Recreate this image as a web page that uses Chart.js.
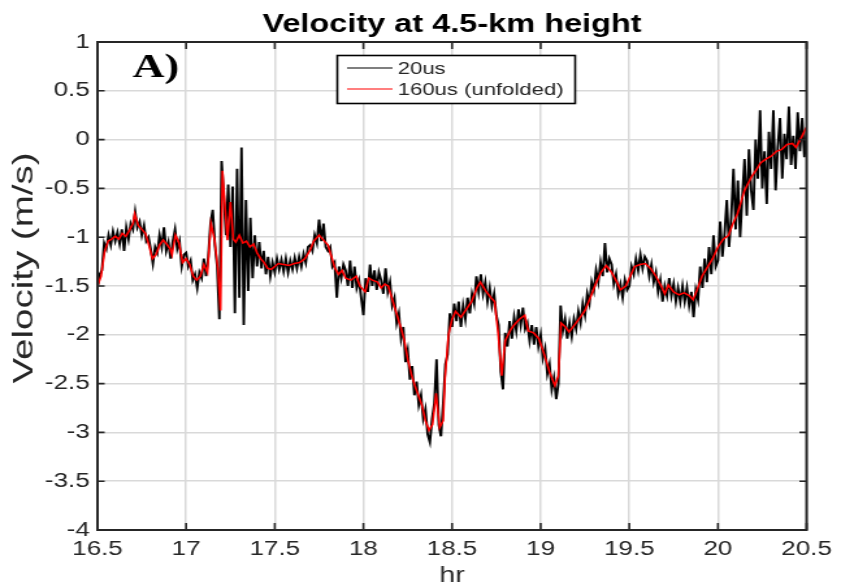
<!DOCTYPE html>
<html>
<head>
<meta charset="utf-8">
<script src="https://cdn.jsdelivr.net/npm/chart.js@4.4.1/dist/chart.umd.min.js"></script>
<style>
  html, body { margin: 0; padding: 0; background: #fff; overflow: hidden; }
  /* the figure is drawn narrow and widened, like the exported plot */
  #wrap { width: 647px; height: 588px; transform: scaleX(1.2998); transform-origin: 0 0; }
</style>
</head>
<body>
<div id="wrap"><canvas id="chart" width="647" height="588"></canvas></div>
<script>
// 20us samples, one every 0.0125 hr from 16.5
const rawStart = 16.5;
const rawStep = 0.0125;
const rawVel = [
  -1.52, -1.38, -1.34, -1.06, -1.12, -0.98, -1.08, -0.94,
  -1.04, -0.95, -1.07, -0.92, -1.14, -0.90, -1.02, -0.86,
  -0.92, -0.74, -0.90, -0.84, -0.98, -0.88, -1.04, -1.00,
  -1.12, -1.27, -1.10, -1.16, -0.98, -1.10, -0.90, -1.14,
  -1.05, -1.22, -1.04, -0.92, -1.12, -1.04, -1.30, -1.18,
  -1.16, -1.30, -1.24, -1.44, -1.38, -1.52, -1.36, -1.42,
  -1.22, -1.40, -1.20, -0.86, -0.72, -1.08, -1.30, -1.84,
  -0.22, -0.58, -0.98, -0.46, -1.10, -0.48, -1.78, -0.30,
  -1.62, -0.08, -1.90, -0.62, -1.55, -0.80, -1.42, -0.98,
  -1.30, -1.05, -1.32, -1.14, -1.38, -1.20, -1.40, -1.26,
  -1.36, -1.22, -1.33, -1.23, -1.35, -1.22, -1.36, -1.24,
  -1.33, -1.21, -1.32, -1.20, -1.30, -1.17, -1.26, -1.10,
  -1.08, -1.14, -0.98, -1.06, -0.82, -1.04, -0.86, -1.10,
  -1.14, -1.10, -1.30, -1.26, -1.62, -1.30, -1.42, -1.28,
  -1.34, -1.50, -1.24, -1.52, -1.30, -1.52, -1.44, -1.62,
  -1.80, -1.42, -1.56, -1.28, -1.50, -1.34, -1.54, -1.36,
  -1.44, -1.58, -1.32, -1.56, -1.46, -1.70, -1.62, -1.88,
  -1.78, -2.04, -1.92, -2.28, -2.16, -2.46, -2.32, -2.62,
  -2.48, -2.72, -2.62, -2.86, -2.76, -3.02, -3.10, -2.86,
  -2.70, -2.25, -2.92, -3.04, -2.70, -2.30, -2.20, -1.78,
  -1.92, -1.68, -1.86, -1.66, -1.92, -1.70, -1.84, -1.62,
  -1.78, -1.58, -1.68, -1.40, -1.56, -1.38, -1.58, -1.46,
  -1.66, -1.52, -1.70, -1.58, -1.80, -1.90, -2.38, -2.56,
  -1.98, -2.12, -1.86, -2.04, -1.82, -1.96, -1.74, -1.90,
  -1.72, -1.94, -1.88, -2.06, -1.90, -2.10, -1.92, -2.12,
  -2.00, -2.24, -2.14, -2.40, -2.30, -2.56, -2.44, -2.66,
  -2.50, -1.70, -1.96, -1.84, -2.04, -1.88, -2.02, -1.84,
  -1.94, -1.76, -1.88, -1.68, -1.80, -1.58, -1.68, -1.46,
  -1.55, -1.34, -1.46, -1.26, -1.40, -1.06, -1.36, -1.22,
  -1.28, -1.48, -1.38, -1.58, -1.48, -1.62, -1.44, -1.54,
  -1.50, -1.30, -1.38, -1.22, -1.34, -1.18, -1.32, -1.20,
  -1.24, -1.40, -1.28, -1.46, -1.36, -1.56, -1.44, -1.66,
  -1.50, -1.60, -1.42, -1.60, -1.48, -1.66, -1.52, -1.66,
  -1.50, -1.66, -1.52, -1.70, -1.56, -1.82, -1.54, -1.64,
  -1.30, -1.52, -1.22, -1.46, -1.10, -1.38, -0.98, -1.30,
  -1.24, -0.84, -1.20, -0.96, -0.62, -1.10, -0.80, -0.30,
  -0.92, -0.42, -1.00, -0.58, -0.20, -0.78, -0.10, -0.52,
  -0.72, 0.00, -0.40, 0.30, -0.50, -0.12, -0.66, 0.08,
  -0.30, 0.30, -0.52, -0.08, 0.22, -0.40, 0.06, -0.20,
  0.34, -0.26, 0.04, -0.30, 0.28, -0.12, 0.22, -0.18,
  0.10
];

// 160us unfolded velocity
const unfHr = [
  16.50, 16.52, 16.54, 16.56, 16.58, 16.60, 16.62, 16.64, 16.66, 16.68,
  16.70, 16.71, 16.73, 16.75, 16.77, 16.79, 16.81, 16.83, 16.85, 16.87,
  16.89, 16.91, 16.92, 16.94, 16.96, 16.98, 17.00, 17.02, 17.04, 17.06,
  17.08, 17.10, 17.12, 17.14, 17.16, 17.18, 17.194, 17.205, 17.22, 17.233,
  17.25, 17.266, 17.28, 17.30, 17.32, 17.34, 17.36, 17.38, 17.40, 17.42,
  17.44, 17.46, 17.48, 17.50, 17.52, 17.55, 17.58, 17.61, 17.64, 17.67,
  17.70, 17.72, 17.75, 17.77, 17.80, 17.82, 17.84, 17.86, 17.88, 17.90,
  17.93, 17.96, 17.98, 18.01, 18.03, 18.05, 18.08, 18.10, 18.12, 18.14,
  18.16, 18.19, 18.21, 18.23, 18.25, 18.27, 18.29, 18.31, 18.33, 18.35,
  18.37, 18.39, 18.41, 18.43, 18.45, 18.46, 18.48, 18.50, 18.52, 18.55,
  18.58, 18.61, 18.64, 18.66, 18.69, 18.72, 18.74, 18.76, 18.78, 18.80,
  18.83, 18.85, 18.88, 18.91, 18.93, 18.96, 18.99, 19.02, 19.05, 19.08,
  19.10, 19.115, 19.14, 19.16, 19.19, 19.22, 19.25, 19.28, 19.31, 19.34,
  19.37, 19.40, 19.43, 19.45, 19.48, 19.50, 19.53, 19.56, 19.59, 19.62,
  19.65, 19.68, 19.70, 19.72, 19.75, 19.78, 19.81, 19.84, 19.86, 19.88,
  19.91, 19.94, 19.97, 20.00, 20.03, 20.06, 20.08, 20.11, 20.13, 20.15,
  20.17, 20.19, 20.22, 20.24, 20.27, 20.30, 20.33, 20.36, 20.39, 20.42,
  20.44, 20.47, 20.50
];
const unfVel = [
  -1.50, -1.40, -1.15, -1.04, -1.02, -0.99, -1.02, -0.96, -0.99, -0.93,
  -0.86, -0.76, -0.88, -0.92, -0.96, -1.08, -1.22, -1.18, -1.08, -1.03,
  -1.07, -1.12, -1.18, -0.98, -1.06, -1.26, -1.22, -1.28, -1.40, -1.44,
  -1.40, -1.28, -1.36, -0.86, -1.02, -1.34, -1.75, -0.32, -0.70, -1.03,
  -0.64, -1.02, -1.05, -0.98, -1.06, -1.04, -1.10, -1.07, -1.16, -1.22,
  -1.26, -1.32, -1.33, -1.30, -1.27, -1.28, -1.29, -1.27, -1.26, -1.22,
  -1.13, -1.04, -0.98, -1.02, -1.08, -1.20, -1.32, -1.38, -1.34, -1.42,
  -1.44, -1.40, -1.50, -1.56, -1.42, -1.44, -1.46, -1.52, -1.48, -1.50,
  -1.62, -1.80, -1.92, -2.05, -2.25, -2.40, -2.52, -2.62, -2.72, -2.88,
  -2.98, -2.92, -2.60, -2.95, -2.88, -2.45, -2.00, -1.84, -1.76, -1.82,
  -1.74, -1.66, -1.52, -1.46, -1.55, -1.62, -1.66, -1.98, -2.42, -2.06,
  -1.95, -1.90, -1.84, -1.80, -1.96, -1.98, -2.04, -2.20, -2.38, -2.52,
  -2.42, -1.88, -1.92, -1.97, -1.90, -1.83, -1.75, -1.62, -1.48, -1.36,
  -1.29, -1.36, -1.46, -1.54, -1.50, -1.42, -1.30, -1.28, -1.27, -1.32,
  -1.40, -1.50, -1.58, -1.49, -1.56, -1.59, -1.57, -1.60, -1.64, -1.55,
  -1.40, -1.31, -1.22, -1.10, -1.02, -0.98, -0.88, -0.76, -0.64, -0.52,
  -0.45, -0.38, -0.30, -0.24, -0.20, -0.17, -0.12, -0.10, -0.05, -0.04,
  -0.08, 0.02, 0.13
];

const hrTicks = [16.5, 17, 17.5, 18, 18.5, 19, 19.5, 20, 20.5];
const velTicks = [-4, -3.5, -3, -2.5, -2, -1.5, -1, -0.5, 0, 0.5, 1];
const seriesNames = ['20us', '160us (unfolded)'];
const seriesColors = ['#000000', '#ff0000'];

const FONT = '"Liberation Sans", Arial, Helvetica, sans-serif';
const INK = '#262626';

const rawPoints = rawVel.map((v, i) => ({ x: rawStart + i * rawStep, y: v }));
const unfPoints = unfHr.map((h, i) => ({ x: h, y: unfVel[i] }));

// box, inward ticks, titles, panel tag and legend (matlab look)
const figureDecor = {
  id: 'figureDecor',
  afterDraw(chart) {
    const { ctx, chartArea: a, scales } = chart;
    const xs = scales.x, ys = scales.y;
    ctx.save();

    ctx.strokeStyle = INK;
    ctx.lineWidth = 1.6;
    ctx.beginPath();
    hrTicks.forEach(h => {
      const px = xs.getPixelForValue(h);
      ctx.moveTo(px, a.bottom); ctx.lineTo(px, a.bottom - 7);
      ctx.moveTo(px, a.top); ctx.lineTo(px, a.top + 7);
    });
    velTicks.forEach(v => {
      const py = ys.getPixelForValue(v);
      ctx.moveTo(a.left, py); ctx.lineTo(a.left + 5.5, py);
      ctx.moveTo(a.right, py); ctx.lineTo(a.right - 5.5, py);
    });
    ctx.stroke();

    ctx.lineWidth = 2;
    ctx.strokeRect(a.left, a.top, a.right - a.left, a.bottom - a.top);

    // title
    ctx.fillStyle = '#000';
    ctx.font = 'bold 25px ' + FONT;
    ctx.textAlign = 'center';
    ctx.textBaseline = 'alphabetic';
    ctx.fillText('Velocity at 4.5-km height', (a.left + a.right) / 2, 32);

    // axis labels
    ctx.fillStyle = INK;
    ctx.font = '22px ' + FONT;
    ctx.textBaseline = 'middle';
    ctx.fillText('hr', (a.left + a.right) / 2, 576);
    ctx.save();
    ctx.translate(19, 268);
    ctx.rotate(-Math.PI / 2);
    ctx.scale(1.75, 1);
    ctx.fillText('Velocity (m/s)', 0, 0);
    ctx.restore();

    // panel tag
    ctx.fillStyle = '#000';
    ctx.font = 'bold 34px "Liberation Serif", "Times New Roman", serif';
    ctx.textAlign = 'left';
    ctx.textBaseline = 'alphabetic';
    ctx.fillText('A)', 102, 77);

    // legend
    const bx = 259.5, by = 55.5, bw = 183, bh = 48;
    ctx.fillStyle = '#fff';
    ctx.fillRect(bx, by, bw, bh);
    ctx.lineWidth = 1.6;
    ctx.strokeStyle = '#000';
    ctx.strokeRect(bx, by, bw, bh);
    ctx.font = '17px ' + FONT;
    ctx.textBaseline = 'middle';
    chart.data.datasets.forEach((ds, i) => {
      const ly = 68 + i * 21;
      ctx.strokeStyle = ds.borderColor;
      ctx.lineWidth = 1.2;
      ctx.beginPath();
      ctx.moveTo(267, ly); ctx.lineTo(302, ly);
      ctx.stroke();
      ctx.fillStyle = INK;
      ctx.fillText(ds.label, 306, ly + 1);
    });
    ctx.restore();
  }
};

const tickText = v => String(Math.round(v * 100) / 100);

new Chart(document.getElementById('chart'), {
  type: 'line',
  data: {
    datasets: [
      {
        label: seriesNames[0],
        data: rawPoints,
        borderColor: seriesColors[0],
        borderWidth: 1.9,
        pointRadius: 0,
        tension: 0,
        order: 1,
      },
      {
        label: seriesNames[1],
        data: unfPoints,
        borderColor: seriesColors[1],
        borderWidth: 1.6,
        pointRadius: 0,
        tension: 0,
        order: 0,
      },
    ],
  },
  options: {
    responsive: false,
    animation: false,
    layout: { padding: { top: 42, right: 22, left: 0, bottom: 0 } },
    plugins: {
      legend: { display: false },
      title: { display: false },
      tooltip: { enabled: false },
    },
    scales: {
      x: {
        type: 'linear',
        min: 16.5,
        max: 20.5,
        afterFit(scale) { scale.height = 58; },
        afterBuildTicks(scale) { scale.ticks = hrTicks.map(v => ({ value: v })); },
        grid: { color: '#d9d9d9', lineWidth: 1.5, drawTicks: false },
        border: { display: false },
        ticks: {
          autoSkip: false,
          maxRotation: 0,
          padding: 7,
          color: INK,
          font: { family: FONT, size: 20 },
          callback: tickText,
        },
      },
      y: {
        min: -4,
        max: 1,
        afterFit(scale) { scale.width = 75; },
        afterBuildTicks(scale) { scale.ticks = velTicks.map(v => ({ value: v })); },
        grid: { color: '#d9d9d9', lineWidth: 1.5, drawTicks: false },
        border: { display: false },
        ticks: {
          autoSkip: false,
          padding: 6,
          color: INK,
          font: { family: FONT, size: 20 },
          callback: tickText,
        },
      },
    },
  },
  plugins: [figureDecor],
});
</script>
</body>
</html>
